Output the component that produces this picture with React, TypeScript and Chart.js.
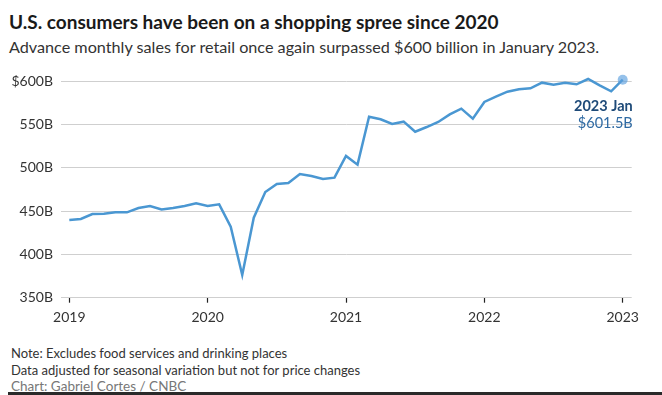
import React, { useEffect, useRef } from "react";
import { Chart, registerables } from "chart.js";

Chart.register(...registerables);

const monthIndex = [
  0, 1, 2, 3, 4, 5, 6, 7, 8, 9, 10, 11,
  12, 13, 14, 15, 16, 17, 18, 19, 20, 21, 22, 23,
  24, 25, 26, 27, 28, 29, 30, 31, 32, 33, 34, 35,
  36, 37, 38, 39, 40, 41, 42, 43, 44, 45, 46, 47,
  48,
];

const salesBillions = [
  439.6, 440.8, 446.5, 446.9, 448.5, 448.5, 453.5, 455.8, 451.9, 453.5, 455.8, 458.8,
  455.8, 457.7, 431.9, 376.2, 442.3, 471.9, 481.2, 482.3, 492.7, 490.4, 486.9, 488.5,
  513.5, 503.5, 558.8, 555.8, 550.4, 553.1, 541.5, 546.9, 552.7, 561.5, 568.1, 556.5,
  575.8, 581.9, 587.7, 590.4, 591.5, 598.1, 595.8, 598.1, 596.2, 602.3, 595.0, 588.1,
  601.5,
];

const xTickIndex = [0, 12, 24, 36, 48];
const xTickLabels = ["2019", "2020", "2021", "2022", "2023"];
const yTickValues = [350, 400, 450, 500, 550, 600];
const yTickLabels = ["350B", "400B", "450B", "500B", "550B", "$600B"];
const annotationLabel = "2023 Jan";

const FONT = "Lato, 'Open Sans', sans-serif";

export default function App() {
  const canvasRef = useRef<HTMLCanvasElement | null>(null);

  useEffect(() => {
    document.body.style.margin = "0";
    const canvas = canvasRef.current;
    if (!canvas) return;

    const lastIdx = salesBillions.length - 1;

    const annotationPlugin = {
      id: "endAnnotation",
      afterDatasetsDraw(chart: any) {
        const meta = chart.getDatasetMeta(0);
        const pt = meta.data[lastIdx];
        if (!pt) return;
        const ctx = chart.ctx;
        const xRight = chart.chartArea.right + 1;
        ctx.save();
        ctx.textAlign = "right";
        ctx.textBaseline = "middle";
        ctx.font = `bold 14.5px ${FONT}`;
        ctx.fillStyle = "#1e4a78";
        ctx.fillText(annotationLabel, xRight, pt.y + 27);
        ctx.font = `14.5px ${FONT}`;
        ctx.fillStyle = "#2f6aa3";
        ctx.fillText(`$${salesBillions[lastIdx].toFixed(1)}B`, xRight, pt.y + 44);
        ctx.restore();
      },
    };

    const chart = new Chart(canvas, {
      type: "line",
      data: {
        datasets: [
          {
            data: monthIndex.map((m, i) => ({ x: m, y: salesBillions[i] })),
            borderColor: "#4a97d2",
            borderWidth: 2.5,
            tension: 0,
            clip: false,
            pointRadius: salesBillions.map((_, i) => (i === lastIdx ? 5 : 0)),
            pointBackgroundColor: "rgba(92,160,222,0.65)",
            pointBorderWidth: 0,
            pointHoverRadius: 0,
          },
        ],
      },
      options: {
        animation: false,
        responsive: false,
        layout: { padding: { top: 21, right: 30.3, left: 0, bottom: 0 } },
        plugins: {
          legend: { display: false },
          tooltip: { enabled: false },
          title: { display: false },
        },
        scales: {
          x: {
            type: "linear",
            min: -0.72,
            max: 48.78,
            afterBuildTicks: (scale: any) => {
              scale.ticks = xTickIndex.map((v) => ({ value: v }));
            },
            afterFit: (scale: any) => {
              scale.height = 32.3;
            },
            grid: {
              drawOnChartArea: false,
              drawTicks: true,
              tickLength: 5,
              tickColor: "#222",
              tickWidth: 1.2,
            },
            border: { display: false },
            ticks: {
              autoSkip: false,
              maxRotation: 0,
              padding: 6,
              color: "#333",
              font: { family: FONT, size: 14 },
              callback: (v: any) => {
                const k = xTickIndex.indexOf(Number(v));
                return k >= 0 ? xTickLabels[k] : "";
              },
            },
          },
          y: {
            min: 350,
            max: 600,
            afterBuildTicks: (scale: any) => {
              scale.ticks = yTickValues.map((v) => ({ value: v }));
            },
            afterFit: (scale: any) => {
              scale.width = 61;
            },
            grid: {
              color: "#cfcfcf",
              lineWidth: 1,
              drawTicks: false,
            },
            border: { display: false },
            ticks: {
              padding: 8,
              color: "#333",
              font: { family: FONT, size: 14 },
              callback: (v: any) => {
                const k = yTickValues.indexOf(Number(v));
                return k >= 0 ? yTickLabels[k] : "";
              },
            },
          },
        },
      },
      plugins: [annotationPlugin],
    });

    return () => {
      chart.destroy();
    };
  }, []);

  return (
    <div
      style={{
        position: "relative",
        width: 662,
        height: 395,
        overflow: "hidden",
        background: "#fff",
        fontFamily: FONT,
      }}
    >
      <div
        style={{
          position: "absolute",
          left: 9,
          top: 11,
          fontSize: 19,
          lineHeight: "22px",
          fontWeight: 700,
          color: "#1a1a1a",
          whiteSpace: "nowrap",
        }}
      >
        U.S. consumers have been on a shopping spree since 2020
      </div>
      <div
        style={{
          position: "absolute",
          left: 9,
          top: 36,
          fontSize: 16.2,
          lineHeight: "22px",
          color: "#333",
          whiteSpace: "nowrap",
        }}
      >
        Advance monthly sales for retail once again surpassed $600 billion in January 2023.
      </div>
      <canvas
        ref={canvasRef}
        width={662}
        height={270}
        style={{ position: "absolute", left: 0, top: 60, width: 662, height: 270 }}
      />
      <div
        style={{
          position: "absolute",
          left: 11,
          top: 345,
          fontSize: 13,
          lineHeight: "16.5px",
          color: "#333",
          whiteSpace: "nowrap",
        }}
      >
        <div>Note: Excludes food services and drinking places</div>
        <div>Data adjusted for seasonal variation but not for price changes</div>
        <div style={{ color: "#777", fontSize: 13.5 }}>Chart: Gabriel Cortes / CNBC</div>
      </div>
      <div
        style={{
          position: "absolute",
          left: 8,
          right: 0,
          top: 392,
          height: 3,
          background: "#2a2a2a",
        }}
      />
    </div>
  );
}
